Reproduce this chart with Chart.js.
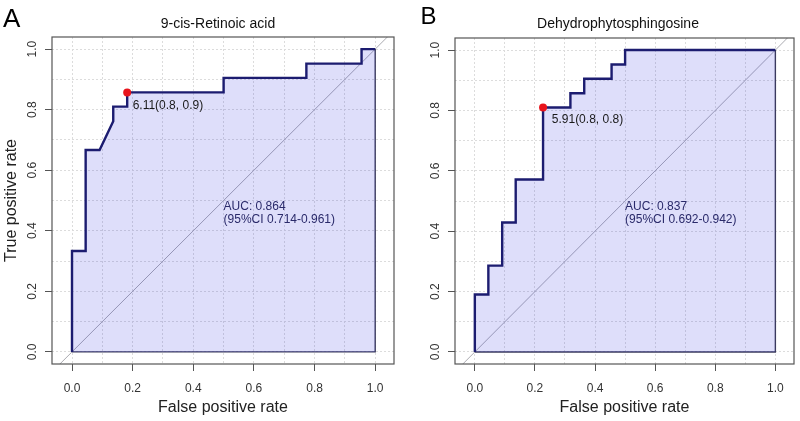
<!DOCTYPE html>
<html>
<head>
<meta charset="utf-8">
<script src="https://cdn.jsdelivr.net/npm/chart.js@4.4.1/dist/chart.umd.min.js"></script>
<style>
  html, body { margin: 0; padding: 0; background: #fff; }
  .panel { position: absolute; top: 0; width: 400px; height: 421px; }
</style>
</head>
<body>
<div class="panel" style="left:0"><canvas id="rocA"></canvas></div>
<div class="panel" style="left:400px"><canvas id="rocB"></canvas></div>
<script>
// ROC curve A: 9-cis-Retinoic acid
const fprA = [0, 0, 0.045, 0.045, 0.091, 0.136, 0.136, 0.182, 0.182, 0.5, 0.5, 0.773, 0.773, 0.955, 0.955, 1];
const tprA = [0, 0.333, 0.333, 0.667, 0.667, 0.762, 0.81, 0.81, 0.857, 0.857, 0.905, 0.905, 0.952, 0.952, 1, 1];
const bestA = [0.182, 0.857];

// ROC curve B: Dehydrophytosphingosine
const fprB = [0, 0, 0.045, 0.045, 0.091, 0.091, 0.136, 0.136, 0.227, 0.227, 0.318, 0.318, 0.364, 0.364, 0.455, 0.455, 0.5, 0.5, 1];
const tprB = [0, 0.19, 0.19, 0.286, 0.286, 0.429, 0.429, 0.571, 0.571, 0.81, 0.81, 0.857, 0.857, 0.905, 0.905, 0.952, 0.952, 1, 1];
const bestB = [0.227, 0.81];

const tickLabels = ["0.0", "0.2", "0.4", "0.6", "0.8", "1.0"];

Chart.defaults.font.family = '"Liberation Sans", Arial, sans-serif';
Chart.defaults.color = "#333";

const isMajor = v => Math.round(v * 10) % 2 === 0;
const tickText = v => isMajor(v) ? tickLabels[Math.round(v * 5)] : "";

// letters, titles, AUC text, threshold label and the box
const rocText = {
    id: "rocText",
    afterDraw(chart, args, o) {
        const ctx = chart.ctx;
        const x = chart.scales.x, y = chart.scales.y;
        const a = chart.chartArea;
        ctx.save();
        ctx.strokeStyle = "#555";
        ctx.lineWidth = 1.2;
        ctx.strokeRect(a.left, a.top, a.right - a.left, a.bottom - a.top);

        ctx.textBaseline = "alphabetic";
        ctx.textAlign = "left";
        ctx.fillStyle = "#000";
        ctx.font = o.letterSize + 'px "Liberation Sans", Arial, sans-serif';
        ctx.fillText(o.letter, o.letterX, o.letterY);

        ctx.fillStyle = "#111";
        ctx.textAlign = "center";
        ctx.font = '14px "Liberation Sans", Arial, sans-serif';
        ctx.fillText(o.title, 218, 28);

        ctx.textAlign = "left";
        ctx.font = '12px "Liberation Sans", Arial, sans-serif';
        ctx.fillStyle = "#2a2a6a";
        ctx.fillText(o.auc[0], x.getPixelForValue(0.5), y.getPixelForValue(0.469));
        ctx.fillText(o.auc[1], x.getPixelForValue(0.5), y.getPixelForValue(0.426));
        ctx.fillStyle = "#1a1a1a";
        ctx.fillText(o.thr, x.getPixelForValue(o.thrPos[0]), y.getPixelForValue(o.thrPos[1]));
        ctx.restore();
    },
};

function makeRoc(id, fpr, tpr, best, opts) {
    const gridOpts = {
        color: "#dcdcdc",
        lineWidth: 1,
        tickLength: 7,
        tickColor: c => (c.tick && isMajor(c.tick.value)) ? "#555" : "rgba(0,0,0,0)",
    };
    return new Chart(document.getElementById(id), {
        type: "line",
        data: {
            datasets: [
                {
                    data: [{ x: best[0], y: best[1] }],
                    showLine: false,
                    pointRadius: 4,
                    pointBackgroundColor: "#e8141c",
                    pointBorderColor: "#e8141c",
                    pointBorderWidth: 0,
                },
                {
                    data: fpr.map((v, i) => ({ x: v, y: tpr[i] })),
                    borderColor: "#1c1c70",
                    borderWidth: 2.4,
                    backgroundColor: "rgba(22,22,222,0.14)",
                    fill: "origin",
                    pointRadius: 0,
                    tension: 0,
                },
                {
                    data: [{ x: 0, y: 0 }, { x: 1, y: 0 }, { x: 1, y: 1 }],
                    borderColor: "#3c3c5c",
                    borderWidth: 1.4,
                    pointRadius: 0,
                    fill: false,
                },
                {
                    data: [{ x: -0.2, y: -0.2 }, { x: 1.2, y: 1.2 }],
                    borderColor: "#aaaab0",
                    borderWidth: 1,
                    pointRadius: 0,
                    fill: false,
                },
            ],
        },
        options: {
            responsive: true,
            maintainAspectRatio: false,
            animation: false,
            layout: { padding: { top: opts.top, right: 6, left: 0, bottom: 0 } },
            plugins: {
                legend: { display: false },
                tooltip: { enabled: false },
                rocText: opts.text,
            },
            scales: {
                x: {
                    type: "linear",
                    min: -0.066,
                    max: 1.062,
                    ticks: {
                        stepSize: 0.1,
                        includeBounds: false,
                        autoSkip: false,
                        maxRotation: 0,
                        minRotation: 0,
                        padding: 10,
                        color: "#333",
                        font: { size: 12 },
                        callback: tickText,
                    },
                    grid: gridOpts,
                    border: { display: false, dash: [2, 2] },
                    title: {
                        display: true,
                        text: "False positive rate",
                        color: "#222",
                        font: { size: 16 },
                        padding: { top: 0, bottom: 4 },
                    },
                    afterFit: s => { s.height = 57; },
                },
                y: {
                    type: "linear",
                    min: -0.04,
                    max: 1.04,
                    ticks: {
                        stepSize: 0.1,
                        includeBounds: false,
                        autoSkip: false,
                        minRotation: 90,
                        maxRotation: 90,
                        crossAlign: "center",
                        padding: 4,
                        color: "#333",
                        font: { size: 12 },
                        callback: tickText,
                    },
                    grid: gridOpts,
                    border: { display: false, dash: [2, 2] },
                    title: {
                        display: opts.yTitle,
                        text: "True positive rate",
                        color: "#222",
                        font: { size: 16 },
                        padding: { top: 2, bottom: 0 },
                    },
                    afterFit: s => { s.width = opts.yWidth; },
                },
            },
        },
        plugins: [rocText],
    });
}

makeRoc("rocA", fprA, tprA, bestA, {
    top: 37,
    yWidth: 52,
    yTitle: true,
    text: {
        letter: "A", letterSize: 26, letterX: 3, letterY: 27,
        title: "9-cis-Retinoic acid",
        auc: ["AUC: 0.864", "(95%CI 0.714-0.961)"],
        thr: "6.11(0.8, 0.9)", thrPos: [0.2, 0.802],
    },
});

makeRoc("rocB", fprB, tprB, bestB, {
    top: 38,
    yWidth: 55,
    yTitle: false,
    text: {
        letter: "B", letterSize: 24, letterX: 20.5, letterY: 24,
        title: "Dehydrophytosphingosine",
        auc: ["AUC: 0.837", "(95%CI 0.692-0.942)"],
        thr: "5.91(0.8, 0.8)", thrPos: [0.256, 0.76],
    },
});
</script>
</body>
</html>
